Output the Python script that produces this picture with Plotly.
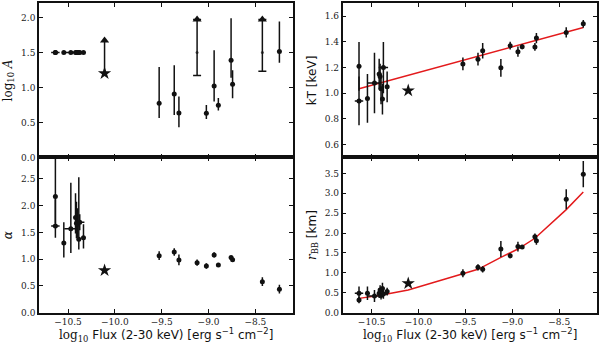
import plotly.graph_objects as go
from plotly.subplots import make_subplots

# observations: low-flux cluster + high-flux group
x_low = [-10.635, -10.635, -10.545, -10.47, -10.42, -10.41, -10.40, -10.385, -10.375, -10.335]
xerr_low = [0.045, 0, 0, 0.07, 0, 0, 0, 0, 0.05, 0]
x_high = [-9.527, -9.366, -9.316, -9.122, -9.023, -8.94, -8.895, -8.759, -8.743, -8.425, -8.243]
x_star = [-10.11]

# log10 A (low-flux points fixed at 1.5)
logA_low = [1.5] * 10
logA_high = [0.773, 0.907, 0.635, None, 0.63, 1.02, 0.745, 1.39, 1.045, None, 1.513]
logA_hi_plus = [0.52, 0.41, 0.235, 0, 0.12, 0.51, 0.105, 0.6, 0.2, 0, 0.43]
logA_hi_minus = [0.21, 0.30, 0.205, 0, 0.08, 0.22, 0.075, 0.25, 0.2, 0, 0.16]
logA_lim_x = [-9.122, -8.425]
logA_lim_low = [1.17, 1.23]
logA_lim_mid = [1.5, 1.5]
logA_lim_top = [1.97, 1.97]
logA_star = [1.2]
logA_star_top = [1.67]

# alpha
alpha_low = [1.62, 2.17, 1.30, 1.567, 1.78, 1.67, 1.65, 1.37, 1.69, 1.40]
alpha_low_plus = [0.5, 0.8, 0.39, 0.86, 0.45, 0.4, 0.3, 1.16, 0.15, 0.25]
alpha_low_minus = [0.22, 0.5, 0.27, 0.45, 0.3, 0.28, 0.25, 0.19, 0.15, 0.2]
alpha_high = [1.066, 1.135, 0.985, 0.935, 0.873, 1.079, 0.89, 1.03, 0.99, 0.58, 0.44]
alpha_high_err = [0.08, 0.07, 0.1, 0.06, 0.05, 0.05, 0.02, 0.03, 0.03, 0.08, 0.08]
alpha_star = [0.79]

# kT [keV]
kT_low = [0.94, 1.21, 0.96, 1.08, 1.15, 1.13, 1.035, 0.955, 1.20, 1.05]
kT_low_err = [0.19, 0.19, 0.19, 0.235, 0.12, 0.1, 0.12, 0.12, 0.2, 0.12]
kT_high = [1.229, 1.266, 1.332, 1.198, 1.371, 1.324, 1.363, 1.361, 1.43, 1.474, 1.541]
kT_high_err = [0.05, 0.05, 0.06, 0.07, 0.03, 0.04, 0.02, 0.03, 0.04, 0.04, 0.03]
kT_star = [1.021]
kT_fit_x = [-10.635, -8.243]
kT_fit_y = [1.036, 1.513]

# r_BB [km]
rbb_low = [0.487, 0.32, 0.487, 0.42, 0.49, 0.57, 0.43, 0.61, 0.47, 0.53]
rbb_low_err = [0.17, 0.08, 0.17, 0.15, 0.12, 0.12, 0.1, 0.14, 0.12, 0.1]
rbb_high = [0.99, 1.14, 1.09, 1.60, 1.43, 1.66, 1.65, 1.91, 1.81, 2.85, 3.48]
rbb_high_err = [0.1, 0.08, 0.08, 0.2, 0.06, 0.12, 0.05, 0.08, 0.1, 0.25, 0.33]
rbb_star = [0.735]
rbb_fit_x = [-10.635, -10.42, -10.11, -9.527, -9.366, -9.122, -9.023, -8.94, -8.759, -8.425, -8.243]
rbb_fit_y = [0.36, 0.43, 0.57, 0.97, 1.09, 1.39, 1.5, 1.6, 1.87, 2.59, 3.03]

SERIF = "DejaVu Serif"
SANS = "DejaVu Sans"
BLACK = "#111111"
RED = "#e31a1c"

fig = make_subplots(rows=2, cols=2)


def err(arr, minus=None, width=0):
    d = dict(type="data", array=arr, color=BLACK, thickness=1.5, width=width, visible=True)
    if minus is not None:
        d["symmetric"] = False
        d["arrayminus"] = minus
    return d


def points(x, y, ey=None, eym=None, ex=None, row=1, col=1):
    fig.add_trace(go.Scatter(
        x=x, y=y, mode="markers",
        marker=dict(color=BLACK, size=5),
        error_y=err(ey, eym) if ey is not None else None,
        error_x=err(ex) if ex is not None else None,
        showlegend=False, hoverinfo="skip"), row=row, col=col)


def star(y, row, col):
    fig.add_trace(go.Scatter(
        x=x_star, y=y, mode="markers",
        marker=dict(color=BLACK, size=10, symbol="star"),
        showlegend=False, hoverinfo="skip"), row=row, col=col)


# --- log10 A (top-left)
points(x_low, logA_low, ex=xerr_low, row=1, col=1)
points(x_high, logA_high, logA_hi_plus, logA_hi_minus, row=1, col=1)
fig.add_trace(go.Scatter(
    x=logA_lim_x, y=logA_lim_mid, mode="markers",
    marker=dict(color="#555555", size=3),
    showlegend=False, hoverinfo="skip"), row=1, col=1)
fig.add_trace(go.Scatter(
    x=logA_lim_x, y=logA_lim_top, mode="markers",
    marker=dict(color=BLACK, size=8, symbol="triangle-up"),
    error_y=err([0, 0], [t - l for t, l in zip(logA_lim_top, logA_lim_low)], width=4),
    showlegend=False, hoverinfo="skip"), row=1, col=1)
fig.add_trace(go.Scatter(
    x=x_star, y=logA_star_top, mode="markers",
    marker=dict(color=BLACK, size=8, symbol="triangle-up"),
    error_y=err([0], [logA_star_top[0] - logA_star[0]]),
    showlegend=False, hoverinfo="skip"), row=1, col=1)
star(logA_star, 1, 1)

# --- alpha (bottom-left)
points(x_low, alpha_low, alpha_low_plus, alpha_low_minus, ex=xerr_low, row=2, col=1)
points(x_high, alpha_high, alpha_high_err, row=2, col=1)
star(alpha_star, 2, 1)

# --- kT (top-right)
fig.add_trace(go.Scatter(x=kT_fit_x, y=kT_fit_y, mode="lines",
                         line=dict(color=RED, width=1.5),
                         showlegend=False, hoverinfo="skip"), row=1, col=2)
points(x_low, kT_low, kT_low_err, ex=xerr_low, row=1, col=2)
points(x_high, kT_high, kT_high_err, row=1, col=2)
star(kT_star, 1, 2)

# --- r_BB (bottom-right)
fig.add_trace(go.Scatter(x=rbb_fit_x, y=rbb_fit_y, mode="lines",
                         line=dict(color=RED, width=1.5),
                         showlegend=False, hoverinfo="skip"), row=2, col=2)
points(x_low, rbb_low, rbb_low_err, ex=xerr_low, row=2, col=2)
points(x_high, rbb_high, rbb_high_err, row=2, col=2)
star(rbb_star, 2, 2)

axis_style = dict(showline=True, linecolor=BLACK, linewidth=1.5, mirror="ticks",
                  ticks="inside", ticklen=4, tickwidth=1, tickcolor=BLACK,
                  showgrid=False, zeroline=False, automargin=False,
                  tickfont=dict(family=SERIF, size=9, color="#222222"))

fig.update_xaxes(**axis_style, range=[-10.81, -8.1],
                 tickvals=[-10.5, -10.0, -9.5, -9.0, -8.5],
                 ticktext=["\u221210.5", "\u221210.0", "\u22129.5", "\u22129.0", "\u22128.5"])
fig.update_yaxes(**axis_style)

fig.update_xaxes(domain=[0.065, 0.488], row=1, col=1)
fig.update_xaxes(domain=[0.065, 0.488], row=2, col=1)
fig.update_xaxes(domain=[0.571, 0.9945], row=1, col=2)
fig.update_xaxes(domain=[0.571, 0.9945], row=2, col=2)
fig.update_xaxes(showticklabels=False, row=1)

fig.update_yaxes(domain=[0.545, 0.99], row=1)
fig.update_yaxes(domain=[0.0962, 0.545], row=2)

fig.update_yaxes(range=[0, 2.2], tickvals=[0, 0.5, 1.0, 1.5, 2.0], ticktext=["0.0", "0.5", "1.0", "1.5", "2.0"],
                 title=dict(text="log<sub>10</sub> <i>A</i>", font=dict(family=SERIF, size=12, color=BLACK), standoff=6),
                 row=1, col=1)
fig.update_yaxes(range=[0, 2.9], tickvals=[0, 0.5, 1.0, 1.5, 2.0, 2.5],
                 ticktext=["0.0", "0.5", "1.0", "1.5", "2.0", "2.5"],
                 title=dict(text="<i>\u03b1</i>", font=dict(family=SERIF, size=12, color=BLACK), standoff=6),
                 row=2, col=1)
fig.update_yaxes(range=[0.5, 1.7], tickvals=[0.6, 0.8, 1.0, 1.2, 1.4, 1.6],
                 ticktext=["0.6", "0.8", "1.0", "1.2", "1.4", "1.6"],
                 title=dict(text="kT [keV]", font=dict(family=SANS, size=12, color=BLACK), standoff=6),
                 row=1, col=2)
fig.update_yaxes(range=[0, 3.9], tickvals=[0, 0.5, 1.0, 1.5, 2.0, 2.5, 3.0, 3.5],
                 ticktext=["0.0", "0.5", "1.0", "1.5", "2.0", "2.5", "3.0", "3.5"],
                 title=dict(text='<span style="font-family:DejaVu Serif"><i>r</i><sub>BB</sub></span> [km]',
                            font=dict(family=SANS, size=12, color=BLACK), standoff=6),
                 row=2, col=2)

xlabel = ('<span style="font-family:DejaVu Serif">log<sub>10</sub></span> '
          'Flux (2-30 keV) [erg s<sup>\u22121</sup> cm<sup>\u22122</sup>]')
for xc in [0.2765, 0.783]:
    fig.add_annotation(x=xc, y=0, xref="paper", yref="paper", xanchor="center", yanchor="bottom",
                       yshift=0, text=xlabel, showarrow=False,
                       font=dict(family=SANS, size=12, color=BLACK))

fig.update_layout(width=600, height=346, margin=dict(l=0, r=0, t=0, b=0),
                  plot_bgcolor="white", paper_bgcolor="white", showlegend=False)

fig.write_html("out.html", config={"displayModeBar": False},
               post_script="document.body.style.margin='0';")
